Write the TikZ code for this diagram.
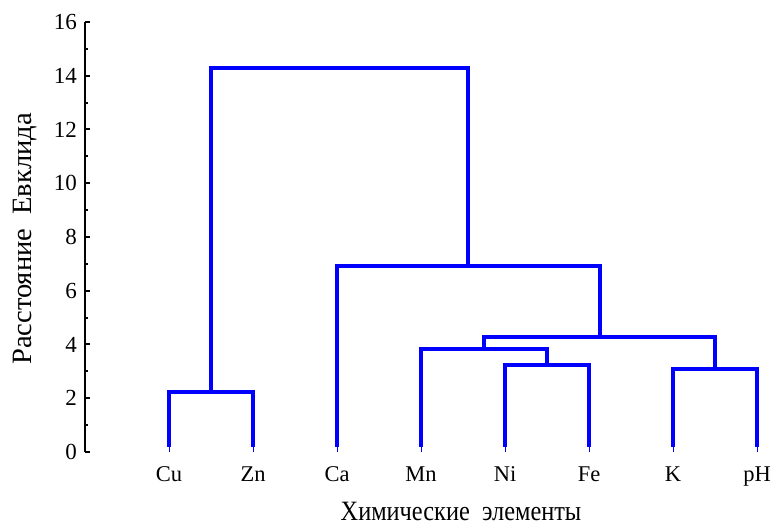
\documentclass[tikz,border=0pt]{standalone}
\usepackage{fontspec}
\setmainfont{Liberation Serif}
\begin{document}
\begin{tikzpicture}[x=1pt,y=26.875pt,
  link/.style={draw=blue,line width=4pt,line join=miter},
  leafstub/.style={draw=blue,line width=1pt},
  axisline/.style={draw=black,line width=2pt},
  ticklab/.style={anchor=east,inner sep=0pt,font=\fontsize{23}{26}\selectfont},
  leaflab/.style={anchor=base,inner sep=0pt,font=\fontsize{22.5}{26}\selectfont},
  titlelab/.style={inner sep=0pt,font=\fontsize{28}{32}\selectfont}]
\useasboundingbox (0,-2.7535) rectangle (773,16.8186);
% axis
\draw[axisline] (84.5,0) -- (84.5,16);
\foreach \v in {0,2,...,16}{
  \draw[axisline] (84.5,\v) -- (89.5,\v);
  \node[ticklab] at (77,\v) {\v};
}
\foreach \v in {1,3,...,15}{
  \draw[axisline] (84.5,\v) -- (87.5,\v);
}
% leaves
\foreach \x/\n/\t in {169/cu/Cu,253/zn/Zn,337/ca/Ca,421/mn/Mn,505/ni/Ni,589/fe/Fe,673/k/K,757/ph/pH}{
  \coordinate (\n) at (\x,0.2);
  \coordinate (\n0) at (\x,0);
  \draw[leafstub] (\n) -- (\n0);
  \node[leaflab] (l\n) at (\x,-1.116) {\t};
}
% heights
\def\hCZ{2.23}\def\hNF{3.24}\def\hKP{3.09}\def\hMN{3.83}\def\hMK{4.28}\def\hCa{6.92}\def\hTop{14.29}
% Cu-Zn
\draw[link] (cu) -- (169,\hCZ) -- (253,\hCZ) -- (zn);
% Ni-Fe
\draw[link] (ni) -- (505,\hNF) -- (589,\hNF) -- (fe);
% K-pH
\draw[link] (k) -- (673,\hKP) -- (757,\hKP) -- (ph);
% Mn-(Ni,Fe)
\draw[link] (mn) -- (421,\hMN) -- (547,\hMN) -- (547,\hNF);
% (Mn..)-(K,pH)
\draw[link] (484,\hMN) -- (484,\hMK) -- (715,\hMK) -- (715,\hKP);
% Ca-(...)
\draw[link] (ca) -- (337,\hCa) -- (599.5,\hCa) -- (599.5,\hMK);
% top
\draw[link] (211,\hCZ) -- (211,\hTop) -- (468.25,\hTop) -- (468.25,\hCa);
% titles
\node[titlelab,rotate=90,anchor=base] (ytitle) at (31.7,7.93) {\scalebox{1.02}[1]{Расстояние\ \ Евклида}};
\node[titlelab,anchor=base] (xtitle) at (461,-2.56) {\scalebox{0.87}[1]{Химические\ \ элементы}};
\end{tikzpicture}
\end{document}
